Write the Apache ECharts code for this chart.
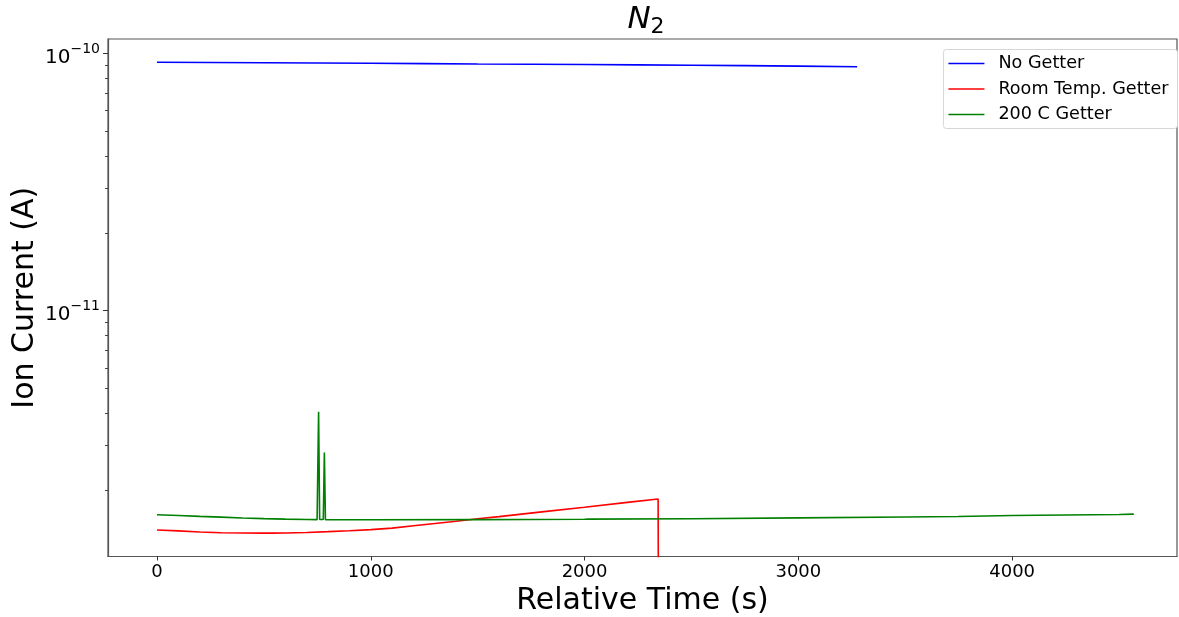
<!DOCTYPE html>
<html>
<head>
<meta charset="utf-8">
<script src="https://cdn.jsdelivr.net/npm/echarts@6/dist/echarts.min.js"></script>
<style>html,body{margin:0;padding:0;background:#fff;}#c{width:1179px;height:617px;}</style>
</head>
<body>
<div id="c"></div>
<script>
const seriesNames = ['No Getter', 'Room Temp. Getter', '200 C Getter'];
const seriesColors = ['#0000ff', '#ff0000', '#008000'];

const blueTime = [0, 250, 500, 750, 1000, 1250, 1500, 1750, 2000, 2250, 2500, 2750, 3000, 3275];
const blueVal = [9.23e-11, 9.22e-11, 9.19e-11, 9.17e-11, 9.15e-11, 9.12e-11, 9.09e-11, 9.07e-11, 9.05e-11, 9.02e-11, 8.99e-11, 8.96e-11, 8.92e-11, 8.87e-11];

const redTime = [0, 100, 200, 300, 400, 500, 543, 546, 549, 600, 700, 800, 900, 1000, 1100, 1200, 1300, 1400, 1500, 1600, 1800, 2000, 2200, 2344, 2346];
const redVal = [1.406e-12, 1.395e-12, 1.380e-12, 1.372e-12, 1.368e-12, 1.367e-12, 1.367e-12, 1.378e-12, 1.367e-12, 1.369e-12, 1.375e-12, 1.385e-12, 1.397e-12, 1.410e-12, 1.430e-12, 1.460e-12, 1.490e-12, 1.520e-12, 1.555e-12, 1.584e-12, 1.653e-12, 1.724e-12, 1.800e-12, 1.855e-12, 5e-13];

const greenTime = [0, 100, 200, 300, 400, 500, 600, 700, 749, 756, 761, 778, 783, 788, 800, 1000, 1500, 2000, 2017, 2020, 2023, 2500, 3000, 3500, 3747, 3750, 3753, 4000, 4500, 4569];
const greenVal = [1.612e-12, 1.600e-12, 1.588e-12, 1.577e-12, 1.566e-12, 1.557e-12, 1.550e-12, 1.545e-12, 1.543e-12, 4.05e-12, 1.545e-12, 1.545e-12, 2.81e-12, 1.542e-12, 1.540e-12, 1.540e-12, 1.543e-12, 1.548e-12, 1.549e-12, 1.565e-12, 1.550e-12, 1.555e-12, 1.567e-12, 1.580e-12, 1.586e-12, 1.598e-12, 1.587e-12, 1.600e-12, 1.615e-12, 1.620e-12];

const xTicks = [0, 1000, 2000, 3000, 4000];
const xTickLabels = ['0', '1000', '2000', '3000', '4000'];
const yMajorTicks = [1e-11, 1e-10];
const yMajorExps = ['\u221211', '\u221210'];
const yMinorTicks = [2e-12, 3e-12, 4e-12, 5e-12, 6e-12, 7e-12, 8e-12, 9e-12, 2e-11, 3e-11, 4e-11, 5e-11, 6e-11, 7e-11, 8e-11, 9e-11];

const xRange = [-229, 4771];
const yRange = [1.109e-12, 1.137e-10];

function zip(t, v) { return t.map((x, i) => [x, v[i]]); }

const FONT = 'DejaVu Sans';
const chart = echarts.init(document.getElementById('c'), null, {renderer: 'canvas'});
chart.setOption({
  animation: false,
  backgroundColor: '#fff',
  textStyle: {fontFamily: FONT},
  title: {
    text: '{n|N}{s|2}',
    left: 646,
    textAlign: 'center',
    top: 2,
    padding: 0,
    textStyle: {
      rich: {
        n: {fontFamily: FONT, fontStyle: 'italic', fontSize: 31, color: '#000', fontWeight: 'normal'},
        s: {fontFamily: FONT, fontSize: 22, color: '#000', padding: [14, 0, 0, 0], fontWeight: 'normal'}
      }
    }
  },
  grid: {left: 108, right: 2, top: 39, bottom: 60.5, show: true, borderColor: '#555', borderWidth: 1.2, backgroundColor: 'transparent', containLabel: false, outerBoundsMode: 'none'},
  legend: {
    orient: 'vertical',
    right: 1.5,
    top: 49.5,
    padding: [5, 9, 5, 5],
    icon: 'rect',
    itemWidth: 36,
    itemHeight: 1.6,
    itemGap: 7.5,
    borderColor: '#d6d6d6',
    borderWidth: 1,
    borderRadius: 3,
    backgroundColor: '#fff',
    textStyle: {fontFamily: FONT, fontSize: 17.6, color: '#000', lineHeight: 18, padding: [0, 0, 0, 9]},
    data: seriesNames
  },
  xAxis: {
    type: 'value',
    min: xRange[0],
    max: xRange[1],
    name: 'Relative Time (s)',
    nameLocation: 'middle',
    nameGap: 23,
    nameTextStyle: {fontFamily: FONT, fontSize: 30, color: '#000'},
    axisLine: {show: true, onZero: false, lineStyle: {color: '#555', width: 1.2}},
    axisTick: {show: true, length: 4, inside: false, customValues: xTicks, lineStyle: {color: '#333'}},
    axisLabel: {
      customValues: xTicks,
      formatter: function (v) { const i = xTicks.indexOf(v); return i >= 0 ? xTickLabels[i] : String(v); },
      fontFamily: FONT, fontSize: 18, color: '#000', margin: 7
    },
    splitLine: {show: false}
  },
  yAxis: [{
    type: 'log',
    logBase: 10,
    min: yRange[0],
    max: yRange[1],
    position: 'left',
    name: 'Ion Current (A)',
    nameLocation: 'middle',
    nameGap: 68,
    nameMoveOverlap: false,
    nameTextStyle: {fontFamily: FONT, fontSize: 30, color: '#000'},
    axisLine: {show: true, onZero: false, lineStyle: {color: '#555', width: 1.2}},
    axisTick: {show: true, length: 3, customValues: yMajorTicks.concat(yMinorTicks), lineStyle: {color: '#444', width: 1}},
    axisLabel: {
      customValues: yMajorTicks,
      margin: 8,
      formatter: function (v) {
        let idx = 0, best = Infinity;
        yMajorTicks.forEach((t, i) => { const d = Math.abs(Math.log10(t) - Math.log10(v)); if (d < best) { best = d; idx = i; } });
        return '{b|10}{e|' + yMajorExps[idx] + '}';
      },
      rich: {
        b: {fontFamily: FONT, fontSize: 20, color: '#000', padding: [8, 0, 0, 0]},
        e: {fontFamily: FONT, fontSize: 14, color: '#000', padding: [0, 0, 8, 0]}
      }
    },
    splitLine: {show: false}
  }, {
    type: 'log',
    logBase: 10,
    min: yRange[0],
    max: yRange[1],
    position: 'left',
    offset: 0,
    axisLine: {show: false, onZero: false},
    axisTick: {show: true, length: 5, customValues: yMajorTicks, lineStyle: {color: '#333', width: 1}},
    axisLabel: {show: false},
    splitLine: {show: false}
  }],
  series: [
    {name: seriesNames[0], type: 'line', data: zip(blueTime, blueVal), symbol: 'none', lineStyle: {color: seriesColors[0], width: 1.6}, itemStyle: {color: seriesColors[0]}, yAxisIndex: 0},
    {name: seriesNames[1], type: 'line', data: zip(redTime, redVal), symbol: 'none', lineStyle: {color: seriesColors[1], width: 1.6}, itemStyle: {color: seriesColors[1]}, yAxisIndex: 0},
    {name: seriesNames[2], type: 'line', data: zip(greenTime, greenVal), symbol: 'none', lineStyle: {color: seriesColors[2], width: 1.6}, itemStyle: {color: seriesColors[2]}, yAxisIndex: 0}
  ]
});
</script>
</body>
</html>
